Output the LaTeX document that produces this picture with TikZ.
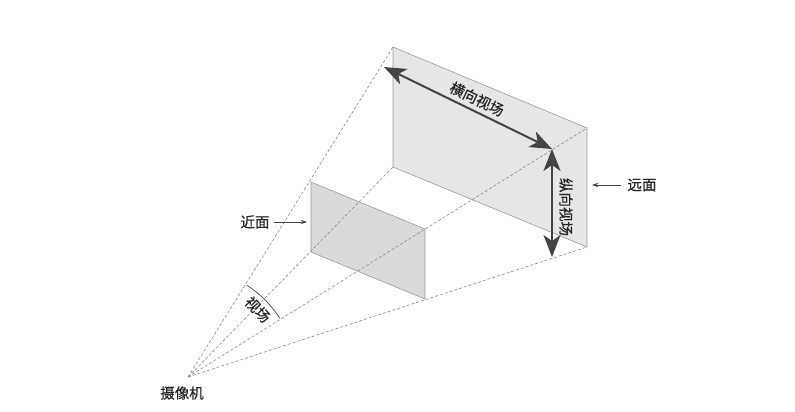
\documentclass[tikz,border=0pt]{standalone}
\usepackage{fontspec}
\setmainfont{Noto Sans CJK SC}[FakeBold=0.5]
\usepackage{tikz}
\usetikzlibrary{calc,arrows.meta}

\definecolor{planefar}{HTML}{E6E6E6}
\definecolor{planenear}{HTML}{DADADA}
\definecolor{edgegray}{HTML}{9A9A9A}
\definecolor{dashgray}{HTML}{8A8A8A}
\definecolor{arrowgray}{HTML}{444444}

\tikzset{
    plane/.style={draw=edgegray, line width=0.6pt},
    ray/.style={draw=dashgray, dashed, dash pattern=on 3pt off 2pt, line width=0.6pt},
    fov/.style={draw=arrowgray, line width=2pt,
        {Stealth[length=22pt,width=17pt,inset=6pt]}-{Stealth[length=22pt,width=17pt,inset=6pt]}},
    pointer/.style={draw=arrowgray, line width=0.6pt, -{Stealth[length=6pt,width=4pt]}},
    label/.style={font=\fontsize{14.5}{14.5}\selectfont, text=black!85, inner sep=0pt}
}

\begin{document}
\begin{tikzpicture}[x=1pt, y=-1pt]
            \useasboundingbox (0,0) rectangle (795,412);

            \coordinate (cam) at (188, 377);
            \coordinate (f1) at (393, 47);
            \coordinate (f2) at (587, 128);
            \coordinate (f3) at (587, 247);
            \coordinate (f4) at (393, 167);
            \coordinate (n1) at (311, 182);
            \coordinate (n2) at (425, 229);
            \coordinate (n3) at (425, 299);
            \coordinate (n4) at (311, 252);

            \filldraw[plane, fill=planefar] (f1) -- (f2) -- (f3) -- (f4) -- cycle;
            \filldraw[plane, fill=planenear] (n1) -- (n2) -- (n3) -- (n4) -- cycle;

            \draw[ray] (cam) -- (f1);
            \draw[ray] (cam) -- (f2);
            \draw[ray] (cam) -- (f3);
            \draw[ray] (cam) -- (f4);

            \coordinate (h1) at (384, 67);
            \coordinate (h2) at (552, 149);
            \coordinate (v2) at (552, 257);
            \draw[fov] (h1) -- (h2);
            \draw[fov] (h2) -- (v2);
            \node[label, rotate=-26] (hfov) at (477, 99) {横向视场};
            \node[label, rotate=-90] (vfov) at (566, 207) {纵向视场};

            \draw[line width=0.7pt, draw=arrowgray] (cam) ++(-57.3:109) arc[start angle=-57.3, end angle=-32.7, radius=109];
            \node[label, rotate=-46] (fov) at ($(cam)+(-44:97)$) {视场};

            \node[label] (near) at (255, 222) {近面};
            \coordinate (nearend) at (307, 222);
            \draw[pointer] (near.east) ++(4,0) -- (nearend);

            \node[label] (far) at (642, 185) {远面};
            \coordinate (farend) at (592, 185);
            \draw[pointer] (far.west) ++(-6,0) -- (farend);

            \node[label] (camera) at (182, 393) {摄像机};
        \end{tikzpicture}
\end{document}
